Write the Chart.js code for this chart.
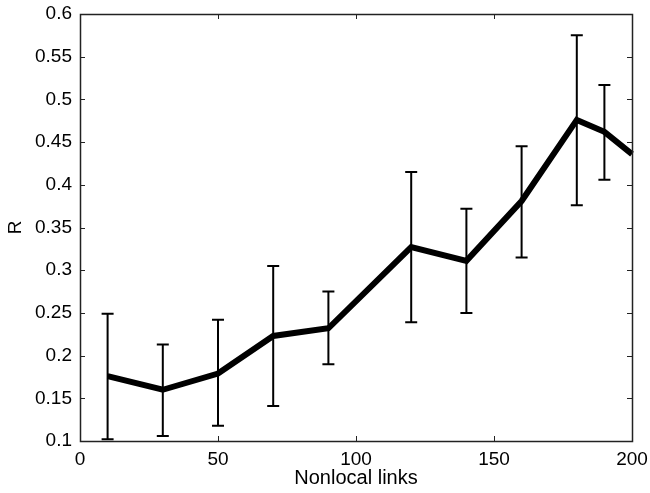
<!DOCTYPE html>
<html>
<head>
<meta charset="utf-8">
<script src="https://cdn.jsdelivr.net/npm/chart.js@4"></script>
<style>
  html, body { margin: 0; padding: 0; background: #fff; }
  #wrap { width: 650px; height: 493px; }
</style>
</head>
<body>
<div id="wrap"><canvas id="chart" width="650" height="493"></canvas></div>
<script>
const links = [10, 30, 50, 70, 90, 120, 140, 160, 180, 190, 200];
const meanR = [0.176, 0.160, 0.179, 0.223, 0.232, 0.327, 0.311, 0.381, 0.476, 0.462, 0.436];
const upperR = [0.249, 0.213, 0.242, 0.305, 0.275, 0.415, 0.372, 0.445, 0.575, 0.517, null];
const lowerR = [0.102, 0.106, 0.118, 0.141, 0.190, 0.239, 0.250, 0.315, 0.376, 0.406, null];
const xTicks = [0, 50, 100, 150, 200];
const yTicks = [0.1, 0.15, 0.2, 0.25, 0.3, 0.35, 0.4, 0.45, 0.5, 0.55, 0.6];

const fontFamily = "'Liberation Sans', Arial, sans-serif";

// error bars + inward ticks + box
const framePlugin = {
  id: "frame",
  afterDatasetsDraw(chart) {
    const { ctx, chartArea: a, scales: { x, y } } = chart;
    ctx.save();
    ctx.strokeStyle = "#000";
    ctx.lineWidth = 2;
    links.forEach((v, i) => {
      if (upperR[i] == null) return;
      const px = x.getPixelForValue(v);
      const top = y.getPixelForValue(upperR[i]);
      const bot = y.getPixelForValue(lowerR[i]);
      ctx.beginPath();
      ctx.moveTo(px, top); ctx.lineTo(px, bot);
      ctx.moveTo(px - 6, top); ctx.lineTo(px + 6, top);
      ctx.moveTo(px - 6, bot); ctx.lineTo(px + 6, bot);
      ctx.stroke();
    });

    ctx.lineWidth = 1;
    ctx.strokeStyle = "#222";
    const len = 5;
    ctx.beginPath();
    xTicks.forEach(v => {
      const px = Math.round(x.getPixelForValue(v)) + 0.5;
      ctx.moveTo(px, a.bottom); ctx.lineTo(px, a.bottom - len);
      ctx.moveTo(px, a.top); ctx.lineTo(px, a.top + len);
    });
    yTicks.forEach(v => {
      const py = Math.round(y.getPixelForValue(v)) + 0.5;
      ctx.moveTo(a.left, py); ctx.lineTo(a.left + len, py);
      ctx.moveTo(a.right, py); ctx.lineTo(a.right - len, py);
    });
    ctx.stroke();
    ctx.lineWidth = 1.5;
    ctx.strokeRect(Math.round(a.left) + 0.5, Math.round(a.top) + 0.5,
      Math.round(a.right - a.left), Math.round(a.bottom - a.top));
    ctx.restore();
  }
};

new Chart(document.getElementById("chart").getContext("2d"), {
  type: "line",
  data: {
    datasets: [{
      label: "R",
      data: links.map((v, i) => ({ x: v, y: meanR[i] })),
      borderColor: "#000",
      borderWidth: 6,
      pointRadius: 0,
      tension: 0,
      borderJoinStyle: "miter",
      clip: false
    }]
  },
  options: {
    responsive: false,
    animation: false,
    devicePixelRatio: 1,
    layout: { padding: { top: 14, right: 18, bottom: 3, left: 2 } },
    plugins: { legend: { display: false }, tooltip: { enabled: false } },
    scales: {
      x: {
        type: "linear",
        min: 0, max: 200,
        afterFit: s => { s.height = 49; s.paddingLeft = 0; s.paddingRight = 0; },
        afterBuildTicks: s => { s.ticks = xTicks.map(v => ({ value: v })); },
        grid: { display: false, drawTicks: false },
        border: { display: false },
        ticks: { color: "#000", padding: 7, font: { family: fontFamily, size: 19 } },
        title: { display: true, text: "Nonlocal links", color: "#000", padding: 0,
          font: { family: fontFamily, size: 20 } }
      },
      y: {
        type: "linear",
        min: 0.1, max: 0.6,
        afterFit: s => { s.width = 78; s.paddingTop = 0; s.paddingBottom = 0; },
        afterBuildTicks: s => { s.ticks = yTicks.map(v => ({ value: v })); },
        grid: { display: false, drawTicks: false },
        border: { display: false },
        ticks: { color: "#000", padding: 8, font: { family: fontFamily, size: 19 },
          callback: v => String(Math.round(v * 100) / 100) },
        title: { display: true, text: "R", color: "#000", padding: 2,
          font: { family: fontFamily, size: 19 } }
      }
    }
  },
  plugins: [framePlugin]
});
</script>
</body>
</html>
